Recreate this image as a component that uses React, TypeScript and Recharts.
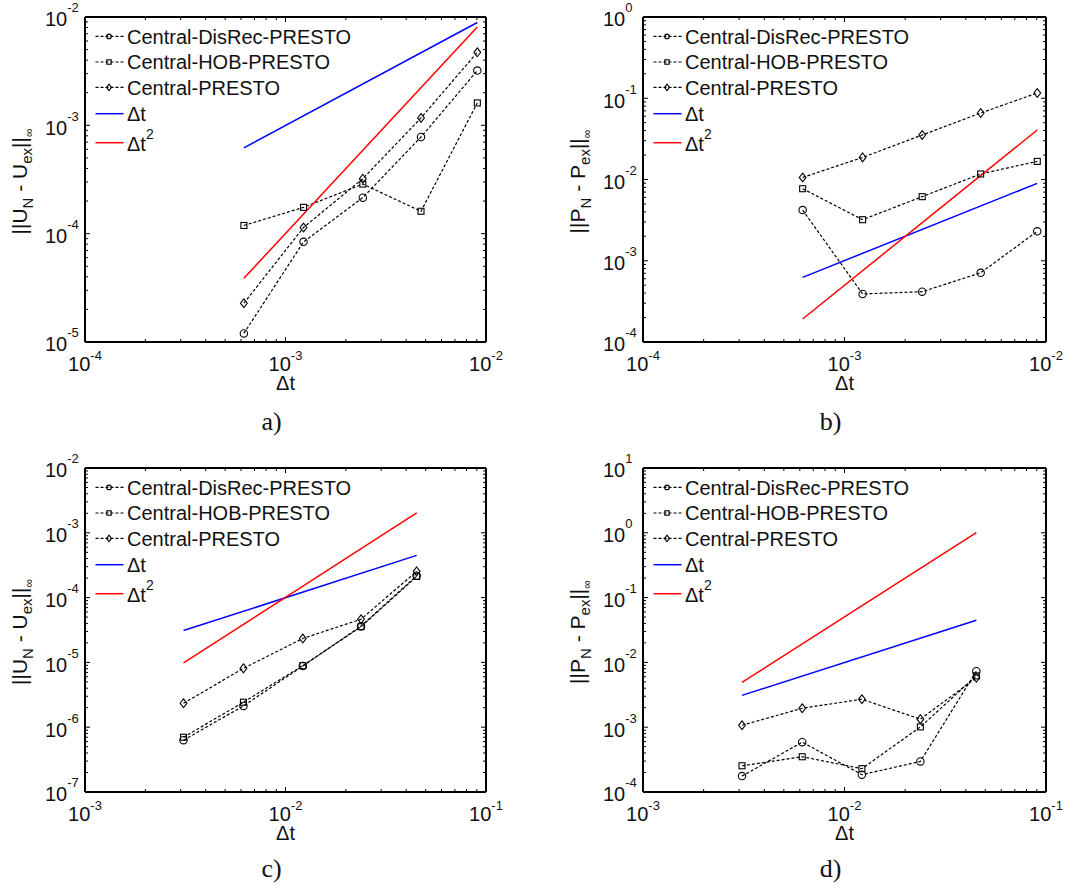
import React from 'react';
import { LineChart, Line, XAxis, YAxis, Legend } from 'recharts';

// ---- time steps (x values) ----
const dtAB = [6.2e-4, 1.23e-3, 2.43e-3, 4.74e-3, 9.05e-3];
const dtCD = [3.1e-3, 6.17e-3, 1.22e-2, 2.38e-2, 4.51e-2];

// ---- major tick values ----
const xTicksAB = [1e-4, 1e-3, 1e-2];
const xTicksCD = [1e-3, 1e-2, 1e-1];
const yTicksA = [1e-5, 1e-4, 1e-3, 1e-2];
const yTicksB = [1e-4, 1e-3, 1e-2, 1e-1, 1e0];
const yTicksC = [1e-7, 1e-6, 1e-5, 1e-4, 1e-3, 1e-2];
const yTicksD = [1e-4, 1e-3, 1e-2, 1e-1, 1e0, 1e1];

// ---- series names ----
const seriesNames = ['Central-DisRec-PRESTO', 'Central-HOB-PRESTO', 'Central-PRESTO'];

// ---- panel a ----
const aDisRec = [1.2e-5, 8.4e-5, 2.15e-4, 7.8e-4, 3.2e-3];
const aHOB = [1.19e-4, 1.75e-4, 2.87e-4, 1.61e-4, 1.61e-3];
const aCentral = [2.28e-5, 1.14e-4, 3.22e-4, 1.17e-3, 4.72e-3];
const aDt = [6.2e-4, 8.9e-3];
const aDt2 = [3.87e-5, 8.09e-3];

// ---- panel b ----
const bDisRec = [4.2e-3, 3.9e-4, 4.16e-4, 7.1e-4, 2.3e-3];
const bHOB = [7.7e-3, 3.2e-3, 6.15e-3, 1.17e-2, 1.67e-2];
const bCentral = [1.06e-2, 1.87e-2, 3.53e-2, 6.58e-2, 0.116];
const bDt = [6.25e-4, 8.97e-3];
const bDt2 = [1.92e-4, 4.07e-2];

// ---- panel c ----
const cDisRec = [6.3e-7, 2.13e-6, 8.8e-6, 3.62e-5, 2.18e-4];
const cHOB = [7.0e-7, 2.43e-6, 8.9e-6, 3.55e-5, 2.12e-4];
const cCentral = [2.34e-6, 8.1e-6, 2.34e-5, 4.64e-5, 2.54e-4];
const cDt = [3.1e-5, 4.48e-4];
const cDt2 = [9.8e-6, 2.03e-3];

// ---- panel d ----
const dDisRec = [1.76e-4, 5.88e-4, 1.85e-4, 2.96e-4, 7.3e-3];
const dHOB = [2.54e-4, 3.5e-4, 2.29e-4, 1.01e-3, 6.2e-3];
const dCentral = [1.07e-3, 1.96e-3, 2.7e-3, 1.33e-3, 5.8e-3];
const dDt = [3.1e-3, 4.48e-2];
const dDt2 = [4.92e-3, 1.01];

const SANS = '"Liberation Sans", Arial, Helvetica, sans-serif';
const SERIF = '"Liberation Serif", "Times New Roman", serif';

const isMajor = (v: number) => Math.abs(Math.log10(v) - Math.round(Math.log10(v))) < 1e-6;
const expOf = (v: number) => String(Math.round(Math.log10(v)));

const allTicks = (majors: number[]) => {
  const out: number[] = [];
  for (let i = 0; i < majors.length; i++) {
    out.push(majors[i]);
    if (i < majors.length - 1) {
      for (let m = 2; m <= 9; m++) out.push(Number((m * majors[i]).toPrecision(6)));
    }
  }
  return out;
};

const toPts = (xs: number[], ys: number[]) => xs.map((x, i) => ({ x, y: ys[i] }));

const CircleMark = ({ cx, cy, r }: any) => (
  <circle cx={cx} cy={cy} r={r} fill="none" stroke="#000" strokeWidth={1.1} />
);
const SquareMark = ({ cx, cy, s }: any) => (
  <rect x={cx - s / 2} y={cy - s / 2} width={s} height={s} fill="none" stroke="#000" strokeWidth={1.1} />
);
const DiamondMark = ({ cx, cy, w, h }: any) => (
  <path
    d={`M${cx},${cy - h / 2} L${cx + w / 2},${cy} L${cx},${cy + h / 2} L${cx - w / 2},${cy} Z`}
    fill="none"
    stroke="#000"
    strokeWidth={1.1}
  />
);

const markerFor = (kind: number, small: boolean, cx: number, cy: number, key?: any) => {
  if (kind === 0) return <CircleMark key={key} cx={cx} cy={cy} r={small ? 2.3 : 3.7} />;
  if (kind === 1) return <SquareMark key={key} cx={cx} cy={cy} s={small ? 4.4 : 6} />;
  return <DiamondMark key={key} cx={cx} cy={cy} w={small ? 5 : 6.8} h={small ? 6.4 : 8.8} />;
};

type Margin = { top: number; left: number; right: number; bottom: number };

type PanelProps = {
  left: number;
  top: number;
  width: number;
  height: number;
  margin: Margin;
  xMajor: number[];
  yMajor: number[];
  dt: number[];
  disRec: number[];
  hob: number[];
  central: number[];
  refDt: number[];
  refDt2: number[];
  sym: string;
  caption: string;
  captionDy: number;
};

const AX = 1; // thickness reserved for each axis box

const Panel = (p: PanelProps) => {
  const { width, height, margin } = p;
  const plotLeft = margin.left;
  const plotRight = width - margin.right;
  const plotTop = margin.top;
  const plotBottom = height - margin.bottom;
  const chartMargin = {
    top: margin.top - AX,
    left: margin.left - AX,
    right: margin.right - AX,
    bottom: margin.bottom - AX,
  };
  const cxPlot = (plotLeft + plotRight) / 2;
  const cyPlot = (plotTop + plotBottom) / 2;
  const xDomain: [number, number] = [p.xMajor[0], p.xMajor[p.xMajor.length - 1]];
  const yDomain: [number, number] = [p.yMajor[0], p.yMajor[p.yMajor.length - 1]];
  const xTicks = allTicks(p.xMajor);
  const yTicks = allTicks(p.yMajor);
  const refX = [p.dt[0], p.dt[p.dt.length - 1]];

  const axisLine = { stroke: '#000', strokeWidth: 2 };

  const bottomTick = (t: any) => {
    const v = t.payload.value;
    const major = isMajor(v);
    return (
      <g key={`b${v}`}>
        <line x1={t.x} x2={t.x} y1={plotBottom} y2={plotBottom - (major ? 5 : 3)} stroke="#000" strokeWidth={1} />
        {major && (
          <text x={t.x} y={plotBottom + 28.5} textAnchor="middle" fontSize={20} fontFamily={SANS} fill="#111">
            10
            <tspan dy={-11} fontSize={13}>
              {expOf(v)}
            </tspan>
          </text>
        )}
      </g>
    );
  };
  const topTick = (t: any) => {
    const v = t.payload.value;
    const major = isMajor(v);
    return (
      <line key={`t${v}`} x1={t.x} x2={t.x} y1={plotTop} y2={plotTop + (major ? 5 : 3)} stroke="#000" strokeWidth={1} />
    );
  };
  const leftTick = (t: any) => {
    const v = t.payload.value;
    const major = isMajor(v);
    return (
      <g key={`l${v}`}>
        <line x1={plotLeft} x2={plotLeft + (major ? 5 : 3)} y1={t.y} y2={t.y} stroke="#000" strokeWidth={1} />
        {major && (
          <text x={plotLeft - 40} y={t.y + 9.4} textAnchor="start" fontSize={20} fontFamily={SANS} fill="#111">
            10
            <tspan dy={-14} fontSize={13}>
              {expOf(v)}
            </tspan>
          </text>
        )}
      </g>
    );
  };
  const rightTick = (t: any) => {
    const v = t.payload.value;
    const major = isMajor(v);
    return (
      <line key={`r${v}`} x1={plotRight} x2={plotRight - (major ? 5 : 3)} y1={t.y} y2={t.y} stroke="#000" strokeWidth={1} />
    );
  };

  const XTitle = () => (
    <g>
      <text x={cxPlot} y={plotBottom + 48} textAnchor="middle" fontSize={20} fontFamily={SANS} fill="#111">
        Δt
      </text>
      <text x={cxPlot - 14} y={plotBottom + p.captionDy} textAnchor="middle" fontSize={26} fontFamily={SERIF} fill="#111">
        {p.caption}
      </text>
    </g>
  );
  const YTitle = () => (
    <text
      transform={`translate(${plotLeft - 58}, ${cyPlot + 2}) rotate(-90)`}
      textAnchor="middle"
      fontSize={21}
      fontFamily={SANS}
      fill="#111"
    >
      {'||' + p.sym}
      <tspan dy={6} fontSize={15}>N</tspan>
      <tspan dy={-6}>{' - ' + p.sym}</tspan>
      <tspan dy={5} fontSize={15}>ex</tspan>
      <tspan dy={-5}>||</tspan>
      <tspan dy={6} fontSize={12}>∞</tspan>
    </text>
  );

  const rowY = [19.4, 45, 70.4, 96.7, 125.7];
  const LegendBox = () => (
    <svg width={280} height={145} style={{ display: 'block', overflow: 'visible' }}>
      {seriesNames.map((name, i) => (
        <g key={name}>
          <line x1={10.5} x2={38.5} y1={rowY[i]} y2={rowY[i]} stroke="#000" strokeWidth={1.1} strokeDasharray="3 2" />
          {markerFor(i, true, 24, rowY[i])}
          <text x={42} y={rowY[i] + 7.4} fontSize={20} fontFamily={SANS} fill="#111">
            {name}
          </text>
        </g>
      ))}
      <line x1={10.5} x2={38.5} y1={rowY[3]} y2={rowY[3]} stroke="#0000ff" strokeWidth={1.5} />
      <text x={42} y={rowY[3] + 7.6} fontSize={20} fontFamily={SANS} fill="#111">
        Δt
      </text>
      <line x1={10.5} x2={38.5} y1={rowY[4]} y2={rowY[4]} stroke="#ff0000" strokeWidth={1.5} />
      <text x={42} y={rowY[4] + 8} fontSize={20} fontFamily={SANS} fill="#111">
        Δt
        <tspan dy={-11.5} fontSize={14}>2</tspan>
      </text>
    </svg>
  );

  const blackSeries = [p.disRec, p.hob, p.central];

  return (
    <div style={{ position: 'absolute', left: p.left, top: p.top, width, height }}>
      <LineChart width={width} height={height} margin={chartMargin}>
        <XAxis
          xAxisId={0}
          dataKey="x"
          type="number"
          scale="log"
          domain={xDomain}
          allowDataOverflow
          ticks={xTicks}
          interval={0}
          height={AX}
          tickSize={0}
          tickLine={false}
          axisLine={axisLine}
          tick={bottomTick}
          label={<XTitle />}
        />
        <XAxis
          xAxisId="top"
          orientation="top"
          dataKey="x"
          type="number"
          scale="log"
          domain={xDomain}
          allowDataOverflow
          ticks={xTicks}
          interval={0}
          height={AX}
          tickSize={0}
          tickLine={false}
          axisLine={axisLine}
          tick={topTick}
        />
        <YAxis
          yAxisId={0}
          dataKey="y"
          type="number"
          scale="log"
          domain={yDomain}
          allowDataOverflow
          ticks={yTicks}
          interval={0}
          width={AX}
          tickSize={0}
          tickLine={false}
          axisLine={axisLine}
          tick={leftTick}
          label={<YTitle />}
        />
        <YAxis
          yAxisId="right"
          orientation="right"
          dataKey="y"
          type="number"
          scale="log"
          domain={yDomain}
          allowDataOverflow
          ticks={yTicks}
          interval={0}
          width={AX}
          tickSize={0}
          tickLine={false}
          axisLine={axisLine}
          tick={rightTick}
        />
        <Legend
          layout="horizontal"
          verticalAlign="middle"
          align="center"
          content={() => <LegendBox />}
          wrapperStyle={{ left: plotLeft, top: plotTop, width: 280, height: 145 }}
        />
        {blackSeries.map((ys, i) => (
          <Line
            key={seriesNames[i]}
            name={seriesNames[i]}
            data={toPts(p.dt, ys)}
            dataKey="y"
            xAxisId={0}
            yAxisId={0}
            stroke="#000"
            strokeWidth={1.2}
            strokeDasharray="3 2"
            isAnimationActive={false}
            dot={(d: any) => markerFor(i, false, d.cx, d.cy, `m${i}-${d.index}`)}
            activeDot={false}
          />
        ))}
        <Line
          name="Δt"
          data={toPts(refX, p.refDt)}
          dataKey="y"
          xAxisId={0}
          yAxisId={0}
          stroke="#0000ff"
          strokeWidth={1.5}
          dot={false}
          activeDot={false}
          isAnimationActive={false}
        />
        <Line
          name="Δt²"
          data={toPts(refX, p.refDt2)}
          dataKey="y"
          xAxisId={0}
          yAxisId={0}
          stroke="#ff0000"
          strokeWidth={1.5}
          dot={false}
          activeDot={false}
          isAnimationActive={false}
        />
      </LineChart>
    </div>
  );
}

export default function App() {
  const mAB = { top: 17, left: 85, right: 53, bottom: 102 };
  const mB = { top: 17, left: 103, right: 32, bottom: 102 };
  const mC = { top: 24, left: 85, right: 53, bottom: 96 };
  const mD = { top: 24, left: 103, right: 32, bottom: 96 };
  return (
    <div style={{ position: 'absolute', left: 0, top: 0, width: 1078, height: 888, background: '#fff' }}>
      <Panel
        left={0} top={0} width={539} height={444} margin={mAB}
        xMajor={xTicksAB} yMajor={yTicksA} dt={dtAB}
        disRec={aDisRec} hob={aHOB} central={aCentral} refDt={aDt} refDt2={aDt2}
        sym="U" caption="a)" captionDy={88}
      />
      <Panel
        left={540} top={0} width={538} height={444} margin={mB}
        xMajor={xTicksAB} yMajor={yTicksB} dt={dtAB}
        disRec={bDisRec} hob={bHOB} central={bCentral} refDt={bDt} refDt2={bDt2}
        sym="P" caption="b)" captionDy={88}
      />
      <Panel
        left={0} top={444} width={539} height={444} margin={mC}
        xMajor={xTicksCD} yMajor={yTicksC} dt={dtCD}
        disRec={cDisRec} hob={cHOB} central={cCentral} refDt={cDt} refDt2={cDt2}
        sym="U" caption="c)" captionDy={85}
      />
      <Panel
        left={540} top={444} width={538} height={444} margin={mD}
        xMajor={xTicksCD} yMajor={yTicksD} dt={dtCD}
        disRec={dDisRec} hob={dHOB} central={dCentral} refDt={dDt} refDt2={dDt2}
        sym="P" caption="d)" captionDy={85}
      />
    </div>
  );
}
